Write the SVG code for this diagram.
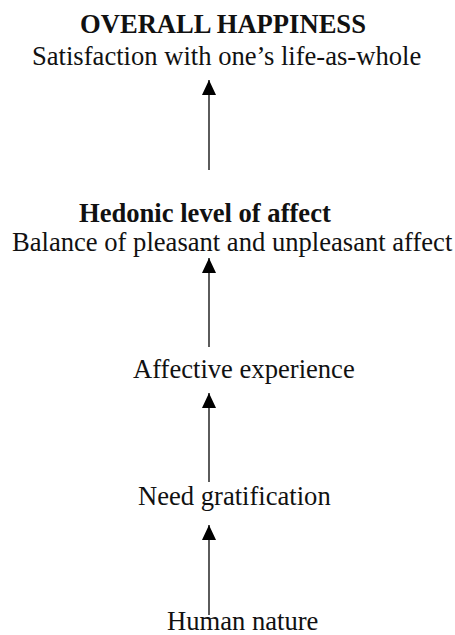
<svg xmlns="http://www.w3.org/2000/svg" width="455" height="635" viewBox="0 0 455 635">
  <style>
    text { font-family: "Liberation Serif", "Times New Roman", serif; font-size: 26.6px; fill: #111; }
    .b { font-weight: bold; }
    .edge { stroke: #333; stroke-width: 1.6; fill: none; marker-end: url(#head); }
  </style>
  <defs>
    <marker id="head" markerUnits="userSpaceOnUse" markerWidth="15" markerHeight="14" refX="15" refY="7" orient="auto">
      <path d="M0,0 L15,7 L0,14 Z" fill="#000"/>
    </marker>
  </defs>
  <rect width="455" height="635" fill="#fff"/>

  <g id="overall-happiness">
    <text class="b" x="80" y="33">OVERALL HAPPINESS</text>
    <text x="32" y="65">Satisfaction with one’s life-as-whole</text>
  </g>
  <g id="hedonic-level">
    <text class="b" x="79" y="222">Hedonic level of affect</text>
    <text x="12" y="251">Balance of pleasant and unpleasant affect</text>
  </g>
  <g id="affective-experience">
    <text x="133" y="378">Affective experience</text>
  </g>
  <g id="need-gratification">
    <text x="138" y="505">Need gratification</text>
  </g>
  <g id="human-nature">
    <text x="167" y="630">Human nature</text>
  </g>

  <g id="connectors">
    <line class="edge" x1="209" y1="170" x2="209" y2="80"/>
    <line class="edge" x1="209" y1="347" x2="209" y2="258"/>
    <line class="edge" x1="209" y1="482" x2="209" y2="393"/>
    <line class="edge" x1="209" y1="615" x2="209" y2="525"/>
  </g>
</svg>
